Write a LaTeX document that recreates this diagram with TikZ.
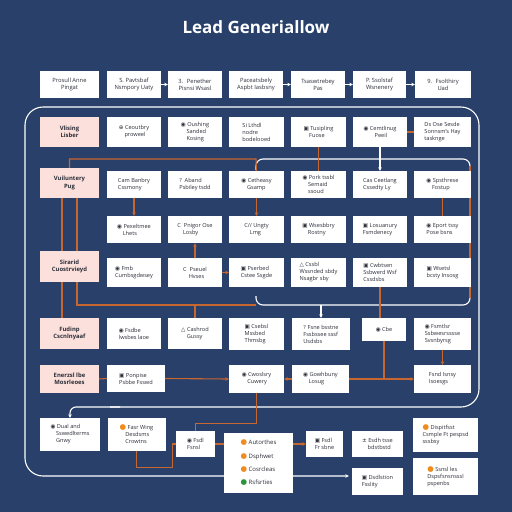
\documentclass[tikz,border=0pt]{standalone}
\usepackage{fontspec}
\setmainfont{Open Sans}
\newfontfamily\symf{DejaVu Sans}
\usetikzlibrary{arrows.meta}

\definecolor{navy}{RGB}{40,64,106}
\definecolor{rust}{RGB}{200,102,48}
\definecolor{blush}{RGB}{251,224,220}
\definecolor{ink}{RGB}{44,46,56}
\definecolor{amber}{RGB}{240,140,30}
\definecolor{leaf}{RGB}{40,150,60}

\newcommand{\ic}[1]{{\symf #1}\ }
\newcommand{\dotc}[1]{{\color{#1}\symf\fontsize{7.5}{7.5}\selectfont ●}\ }

\pgfdeclarelayer{back}
\pgfdeclarelayer{wires}
\pgfsetlayers{back,wires,main}

\tikzset{
  card/.style={fill=white, text=ink, inner sep=1pt, align=left,
    font=\fontsize{5.6}{7}\selectfont},
  strip/.style={card, align=center, font=\fontsize{5.8}{7.2}\selectfont},
  tag/.style={fill=blush, text=ink, inner sep=1pt, align=center,
    font=\bfseries\fontsize{5.9}{7.4}\selectfont},
  dim/.style 2 args={minimum width=#1pt, minimum height=#2pt},
  wire/.style={rust, line width=1.1pt},
  rim/.style={white, line width=1.1pt},
  tip/.style={-{Stealth[length=3.5pt,width=3.5pt]}},
}

\begin{document}
\begin{tikzpicture}[x=1pt, y=-1pt]
\begin{pgfonlayer}{back}
  \fill[navy] (0,0) rectangle (512,512);
\end{pgfonlayer}
\useasboundingbox (0,0) rectangle (512,512);

% title
\node[text=white, font=\bfseries\fontsize{17}{20}\selectfont] (title) at (256,27) {Lead Generiallow};

% top strip
\node[strip, dim={59}{27}] (t1) at (69.5,84.5) {Prosull Anne\\Pingat};
\node[strip, dim={54}{27}] (t2) at (134,84.5) {S. Pavtsbaf\\Nsmpory Uaty};
\node[strip, dim={54}{27}] (t3) at (195,84.5) {3.~ Penether\\Pisnsi Wsasl};
\node[strip, dim={54}{27}] (t4) at (256,84.5) {Paceatsbely\\Aspbt Iasbsny};
\node[strip, dim={54}{27}] (t5) at (318,84.5) {Tsaswtrebey\\Pas};
\node[strip, dim={53}{27}] (t6) at (379.5,84.5) {P. Ssolstaf\\Wsnenery};
\node[strip, dim={56}{27}] (t7) at (443,84.5) {9.~ Fsolthiry\\Uad};

% row A
\node[tag, dim={59}{30}] (pA) at (69.5,132) {Vlising\\Lisber};
\node[card, dim={54}{30}] (a1) at (134,132) {\ic{⊕}Ceoutbry\\\quad proweel};
\node[card, dim={54}{30}] (a2) at (195,132) {\ic{◉}Oushing\\\quad Sanded\\\quad Kosing};
\node[card, dim={55}{30}] (a3) at (256.5,132) {Si Lthdl\\nodre\\bodelooed};
\node[card, dim={55}{30}] (a4) at (318.5,132) {\ic{▣}Tusipling\\\quad Fuose};
\node[card, dim={54}{30}] (a5) at (380,132) {\ic{◉}Cemtlinug\\\qquad Peeil};
\node[card, dim={57}{30}] (a6) at (442.5,132) {Ds Ose Sesde\\Sonnsm's Hay\\tasknge};

% row B
\node[tag, dim={59}{30}] (pB) at (69.5,183) {Vuiluntery\\Pug};
\node[card, dim={54}{27}] (b1) at (134,184.5) {Cam Banbry\\Cssmony};
\node[card, dim={54}{27}] (b2) at (195,184.5) {?\ \ Aband\\Psbiley tsdd};
\node[card, dim={55}{27}] (b3) at (256.5,184.5) {\ic{◉}Cetheasy\\\quad Gsamp};
\node[card, dim={55}{27}] (b4) at (318.5,184.5) {\ic{◉}Pork tssbl\\\quad Semaid\\\quad ssoud};
\node[card, dim={54}{27}] (b5) at (380,184.5) {Cas Ceetlang\\Cssedty Ly};
\node[card, dim={57}{27}] (b6) at (442.5,184.5) {\ic{◉}Spsthrese\\\quad Fostup};

% row C
\node[card, dim={54}{27}] (c1) at (134,229.5) {\ic{◉}Pexeltmee\\\quad Lhets};
\node[card, dim={54}{27}] (c2) at (195,229.5) {C\ \ Pnigor Ose\\\quad Losby};
\node[card, dim={55}{27}] (c3) at (256.5,229.5) {C// Ungty\\\quad Lmg};
\node[card, dim={55}{27}] (c4) at (318.5,229.5) {\ic{▣}Wsesbbry\\\quad Rostny};
\node[card, dim={54}{27}] (c5) at (380,229.5) {\ic{▣}Losuanury\\Fsmdenecy};
\node[card, dim={57}{27}] (c6) at (442.5,229.5) {\ic{◉}Eport tssy\\Pose bsns};

% row D
\node[tag, dim={59}{31}] (pD) at (69.5,266.5) {Sirarid\\Cuostrvieyd};
\node[card, dim={54}{29}] (d1) at (134,272.5) {\ic{◉}Fmb\\Cumbsgdwsey};
\node[card, dim={54}{29}] (d2) at (195,272.5) {C\ \ Pseuel\\\quad Hvses};
\node[card, dim={55}{29}] (d3) at (256.5,272.5) {\ic{▣}Pserbed\\Cstee Ssgde};
\node[card, dim={55}{29}] (d4) at (318.5,272.5) {\ic{△}Cssbl\\Wssnded sbdy\\Nsagbr sby};
\node[card, dim={54}{29}] (d5) at (380,272.5) {\ic{▣}Cwbtsen\\Ssbwerd Wsf\\Cssdsbs};
\node[card, dim={57}{29}] (d6) at (442.5,272.5) {\ic{▣}Wsetsl\\bcsty Insosg};

% row E
\node[tag, dim={59}{31}] (pE) at (69.5,333.5) {Fudinp\\Cscnlnyaaf};
\node[card, dim={54}{31}] (e1) at (134,333.5) {\ic{◉}Fsdbe\\lwsbes laoe};
\node[card, dim={54}{31}] (e2) at (195,333.5) {\ic{△}Cashrod\\\quad Gussy};
\node[card, dim={55}{32}] (e3) at (256.5,334) {\ic{▣}Csebsl\\Mssbed\\Thmsbg};
\node[card, dim={58}{32}] (e4) at (321,334) {? Fsne bsstne\\Fssbssee sssf\\Usdsbs};
\node[card, dim={44}{23}] (e5) at (384,329.5) {\ic{◉}Cbe};
\node[card, dim={57}{32}] (e6) at (442.5,334) {\ic{◉}Fsmtlsr\\Ssbwesrsssse\\Svsnbyrsg};

% row F
\node[tag, dim={59}{28}] (pF) at (69.5,379) {Enerzsl lbe\\Mosrleoes};
\node[card, dim={58}{27}] (f1) at (136,378.5) {\ic{▣}Ponpise\\Psbbe Fsswd};
\node[card, dim={55}{28}] (f3) at (256.5,379) {\ic{◉}Cwoslsry\\\quad Cuwery};
\node[card, dim={57}{28}] (f4) at (320.5,379) {\ic{◉}Gowhbuny\\\quad Losug};
\node[card, dim={57}{28}] (f6) at (442.5,379) {Fsnd Isnsy\\Isoesgs};

% bottom group
\node[card, dim={60}{33}] (g1) at (70,434.5) {\ic{◉}Dual and\\\quad Sswedlterms\\\quad Gnwy};
\node[card, dim={58}{33}] (g2) at (136.5,434.5) {\dotc{amber}Fasr Wing\\\quad Desdsms\\\quad Crowtns};
\node[card, dim={39}{26}] (g3) at (195.5,444) {\ic{◉}Fsdl\\Fsnsl};
\node[card, dim={69}{60}, font=\fontsize{6}{13.3}\selectfont] (lst) at (258.5,463)
  {\dotc{amber}Autorthes\\\dotc{amber}Dsphwet\\\dotc{amber}Cosrcleas\\\dotc{leaf}Rsfsrties};
\node[card, dim={37}{26}] (g5) at (324.5,444) {\ic{▣}Fsdl\\Fr sbne};
\node[card, dim={51}{26}] (g6) at (377.5,444) {\ic{±}Esdh tsse\\\quad bdstbstd};
\node[card, dim={51}{27}] (g7) at (377.5,481.5) {\ic{▣}Dsdlstion\\Fsslity};
\node[card, dim={65}{34}] (g8) at (445.5,435) {\dotc{amber}Dispitfsst\\Csmple Ft pespsd\\sssbsy};
\node[card, dim={65}{37}] (g9) at (445.5,476.5) {\dotc{amber}Ssnsl les\\Dspsfsnsnsssl\\pspenbs};

\coordinate (fr-nw) at (256,159);
\coordinate (fr-se) at (470,305);
\coordinate (botline) at (0,476);

\begin{pgfonlayer}{wires}
  % white frames
  \draw[rim, {Stealth[length=3.5pt,width=3.5pt]}-, rounded corners=6pt] (g1.north) |- (120,407);
  \draw[rim, tip, rounded corners=18pt, shorten >=3pt] (110,407) -- (479,407) -- (479,107)
    -- (25,107) -- (25,476) -- (g7.west |- botline);
  \draw[rim, rounded corners=7pt] (256,170) -- (fr-nw) -| (fr-se) -- (256,305) -- (256,296);
  \draw[wire] (470,166) -- (470,298);
  \foreach \u/\v in {t2/t3,t4/t5,t5/t6,t6/t7}
    \draw[rim, tip, line width=0.8pt] (\u.east) -- (\v.west);
  \draw[rim, tip] (a5.south) -- (b5.north);
  \draw[rim, tip] (e4.north |- fr-se) -- (e4.north);

  % orange links
  \draw[wire] (pB.north) |- (fr-nw) -- (b3.north);
  \draw[wire, tip] (b3.south) -- (c3.north);
  \draw[wire, tip] (b1.south) -- (c1.north);
  \draw[wire, tip] (d2.north) -- (c2.south);
  \draw[wire, tip] (d2.east) -- (d3.west);
  \draw[wire] ([xshift=-7.5pt]pB.south) -- ([xshift=-7.5pt]pE.north);
  \draw[wire] ([xshift=7.5pt]pB.south) |- (fr-se -| fr-nw);
  \draw[wire] (e2.north) -- (e2.north |- fr-se);
  \draw[wire] (a4.south) -- (b4.north);
  \draw[wire] (a5.east) -- (a6.west);
  \draw[wire] (b6.south) -- (c6.north);
  \draw[wire] (d5.south) -- (d5.south |- e5.north);
  \draw[wire] (e5.south) -- (e5.south |- f4.east);
  \draw[wire, tip] (f4.east) -- (f6.west);
  \draw[wire, tip] (f4.west) -- (f3.east);
  \draw[wire, tip] (e6.south) -- (f6.north);
  \draw[wire] (pF.east) -- (f1.west);
  \draw[wire, tip] (f1.east) -- (f3.west);
  \draw[wire] (f3.south) -- ++(0,30) -| (g3.north);
  \draw[wire] (g2.south) -- ++(0,16) -| ([xshift=-3pt]g3.west) -- (g3.west);
  \draw[wire] (g3.east) -- (g3.east -| lst.west);
  \draw[wire, tip] (lst.east |- g5.west) -- (g5.west);
\end{pgfonlayer}
\end{tikzpicture}
\end{document}
